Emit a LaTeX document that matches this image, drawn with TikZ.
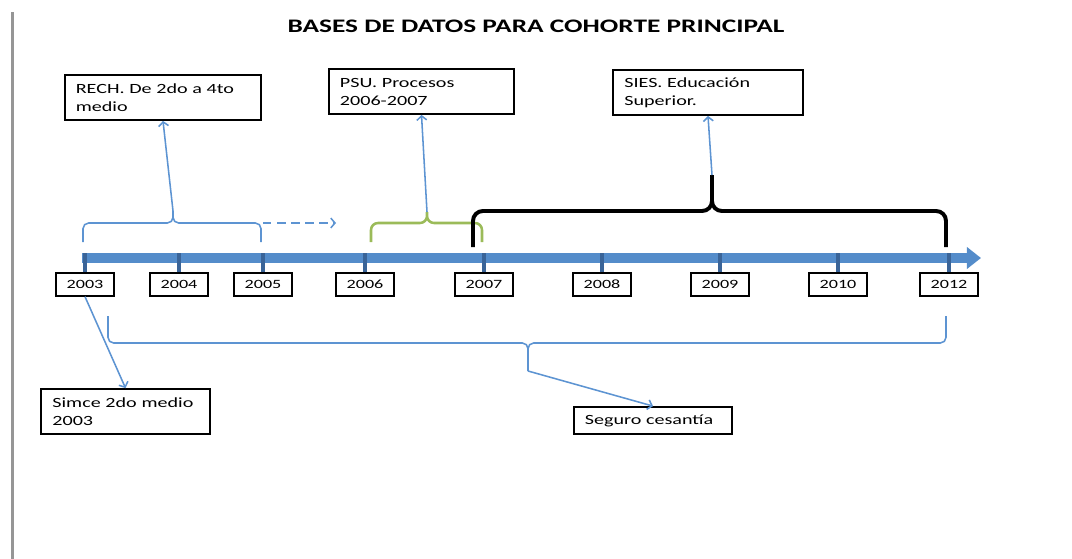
\documentclass[tikz,border=0pt]{standalone}
\usepackage{fontspec}
\setmainfont[FakeStretch=1.43]{Carlito}
\usetikzlibrary{arrows.meta,positioning}

\definecolor{barblue}{RGB}{84,140,202}
\definecolor{tickblue}{RGB}{58,100,152}
\definecolor{lineblue}{RGB}{93,148,210}
\definecolor{bracegreen}{RGB}{155,187,89}
\definecolor{edgegray}{RGB}{150,150,150}

\begin{document}
\begin{tikzpicture}[x=0.025cm, y=-0.025cm, >={Straight Barb[length=3pt,width=7pt]},
    yearbox/.style={draw, line width=1.3pt, minimum width=41pt, minimum height=16pt, inner sep=0pt, font=\fontsize{9}{10}\selectfont},
    infobox/.style={draw, line width=1.4pt, inner xsep=8pt, minimum height=31.9pt, align=left, font=\fontsize{10}{12.8}\selectfont},
    timebar/.style={barblue, line width=7.3pt, -{Triangle[length=10pt,width=15pt]}},
    tickline/.style={tickblue, line width=2.8pt},
    bluebrace/.style={lineblue, line width=1.1pt, rounded corners=4pt},
    greenbrace/.style={bracegreen, line width=1.8pt, rounded corners=5pt},
    blackbrace/.style={black, line width=2.8pt, rounded corners=7pt},
    link/.style={lineblue, line width=1.1pt, ->}]
    \useasboundingbox (0,0) rectangle (1072,559);
    \draw[edgegray, line width=2.1pt] (12.5,12) -- (12.5,559);

    \node[font=\bfseries\fontsize{13.6}{15}\selectfont] (title) at (536,26) {BASES DE DATOS PARA COHORTE PRINCIPAL};

    % boxes
    \node[infobox, text width=124pt] (rech) at (163,97.5) {RECH. De 2do a 4to\\medio};
    \node[infobox, text width=116pt] (psu) at (421.5,91.5) {PSU. Procesos\\2006-2007};
    \node[infobox, text width=119pt] (sies) at (708,92.5) {SIES. Educación\\Superior.};
    \node[infobox, text width=104pt] (simce) at (125.5,411.5) {Simce 2do medio\\2003};
    \node[infobox, text width=97pt, minimum height=19.1pt] (seguro) at (653,420.5) {Seguro cesantía};

    % timeline
    \coordinate (barstart) at (82,258);
    \coordinate (barend) at (981,258);
    \coordinate (bartop) at (82,253);
    \draw[timebar] (barstart) -- (barend);

    \node[yearbox] (y2003) at (85,284.5) {2003};
    \node[yearbox] (y2004) at (179,284.5) {2004};
    \node[yearbox] (y2005) at (263,284.5) {2005};
    \node[yearbox] (y2006) at (365,284.5) {2006};
    \node[yearbox] (y2007) at (484,284.5) {2007};
    \node[yearbox] (y2008) at (602,284.5) {2008};
    \node[yearbox] (y2009) at (720,284.5) {2009};
    \node[yearbox] (y2010) at (838,284.5) {2010};
    \node[yearbox] (y2012) at (949,284.5) {2012};

    \draw[tickline] (y2003.north) -- (y2003.north |- bartop);
    \draw[tickline] (y2004.north) -- (y2004.north |- bartop);
    \draw[tickline] (y2005.north) -- (y2005.north |- bartop);
    \draw[tickline] (y2006.north) -- (y2006.north |- bartop);
    \draw[tickline] (y2007.north) -- (y2007.north |- bartop);
    \draw[tickline] (y2008.north) -- (y2008.north |- bartop);
    \draw[tickline] (y2009.north) -- (y2009.north |- bartop);
    \draw[tickline] (y2010.north) -- (y2010.north |- bartop);
    \draw[tickline] (y2012.north) -- (y2012.north |- bartop);

    % braces
    \coordinate (rechtip) at (173,211);
    \coordinate (psutip) at (427,212);
    \coordinate (siestip) at (712,175);
    \coordinate (segurotip) at (528,371);
    \coordinate (dashstart) at (263,223);
    \coordinate (dashend) at (336,223);

    \draw[bluebrace] (83,242) |- (173,223) -- (rechtip) (rechtip) -- (173,223) -| (261,242);
    \draw[greenbrace] (371,242) |- (427,223) -- (psutip) (psutip) -- (427,223) -| (482,242);
    \draw[blackbrace] (473,247) |- (712,211) -- (siestip) (siestip) -- (712,211) -| (946,247);
    \draw[bluebrace] (108,316) |- (528,343) -- (segurotip) (segurotip) -- (528,343) -| (946,316);

    % links
    \draw[link, dash pattern=on 6pt off 4pt] (dashstart) -- (dashend);
    \draw[link] (rechtip) -- (rech.south);
    \draw[link] (psutip) -- (psu.south);
    \draw[link] (siestip) -- (sies.south);
    \draw[link] (segurotip) -- (seguro.north);
    \draw[link] (y2003.south) -- (simce.north);
\end{tikzpicture}
\end{document}
